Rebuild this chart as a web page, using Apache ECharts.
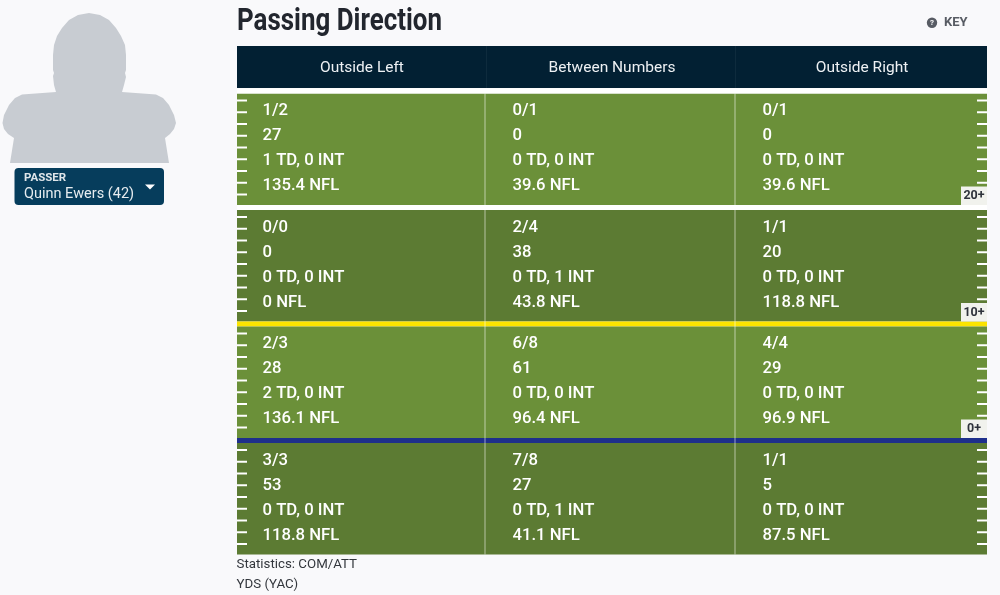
<!DOCTYPE html>
<html><head><meta charset="utf-8">
<style>html,body{margin:0;padding:0;background:#f9f9fb}#c{width:1000px;height:595px}</style>
<script src="https://cdn.jsdelivr.net/npm/echarts@6/dist/echarts.min.js"></script>
</head><body><div id="c"></div>
<script>
const directions = ['Outside Left','Between Numbers','Outside Right'];
const zones = ['20+','10+','0+','Behind'];
const comAtt = [['1/2','0/1','0/1'],['0/0','2/4','1/1'],['2/3','6/8','4/4'],['3/3','7/8','1/1']];
const yds = [['27','0','0'],['0','38','20'],['28','61','29'],['53','27','5']];
const tdInt = [['1 TD, 0 INT','0 TD, 0 INT','0 TD, 0 INT'],['0 TD, 0 INT','0 TD, 1 INT','0 TD, 0 INT'],['2 TD, 0 INT','0 TD, 0 INT','0 TD, 0 INT'],['0 TD, 0 INT','0 TD, 1 INT','0 TD, 0 INT']];
const rating = [['135.4 NFL','39.6 NFL','39.6 NFL'],['0 NFL','43.8 NFL','118.8 NFL'],['136.1 NFL','96.4 NFL','96.9 NFL'],['118.8 NFL','41.1 NFL','87.5 NFL']];
const zoneLabels = ['20+','10+','0+'];
const rowColors = ['#6b9039','#5c7b33','#6b9039','#5c7b33'];
const gapColors = ['#ffffff','#fbe400','#1e2f8b'];

const cells = [];
comAtt.forEach((r, ri) => r.forEach((_, ci) => cells.push([ci, ri])));
const GAP = 5, TICK_W = 10, TICK_N = 9, TICK_STEP = 11.75, FONT = 'Roboto';

function renderCell(params, api) {
  const ci = api.value(0), ri = api.value(1);
  const c = api.coord([ci, ri]), s = api.size([1, 1]);
  const x0 = c[0] - s[0] / 2, top = c[1] - s[1] / 2, h = s[1];
  const ct = top + GAP / 2, cb = top + h - GAP / 2;
  const ch = [];
  const w = s[0];
  const cellX = ci === 0 ? x0 : x0 - 2, cellW = ci === 0 ? w - 2 : (ci === 2 ? w + 2 : w);
  ch.push({type:'rect', shape:{x:cellX, y:ct, width:cellW, height:cb-ct}, style:{fill:rowColors[ri]}});
  if (ri === 0) ch.push({type:'rect', shape:{x:cellX, y:ct-GAP, width:cellW, height:GAP}, style:{fill:'#ffffff'}});
  if (ri < 3) ch.push({type:'rect', shape:{x:cellX, y:cb, width:cellW, height:GAP}, style:{fill:gapColors[ri]}});
  if (ci > 0) {
    const extra = ri === 0 ? 0 : GAP;
    ch.push({type:'rect', shape:{x:x0-3, y:ct-extra, width:2, height:cb-ct+extra}, style:{fill:'rgba(255,255,255,0.28)'}});
  }
  for (let i = 0; i < TICK_N; i++) {
    const ty = ct + 6 + i * TICK_STEP;
    if (ci === 0) ch.push({type:'rect', shape:{x:x0, y:ty, width:TICK_W, height:2}, style:{fill:'#ffffff'}});
    if (ci === 2) ch.push({type:'rect', shape:{x:x0+w-TICK_W, y:ty, width:TICK_W, height:2}, style:{fill:'#ffffff'}});
  }
  [comAtt, yds, tdInt, rating].forEach((arr, k) => {
    ch.push({type:'text', x:x0+25.5, y:ct+17.5+k*25, style:{text:arr[ri][ci], x:0, y:0, fill:'#ffffff', font:'500 16.7px '+FONT, textAlign:'left', textVerticalAlign:'middle', textBaseline:'middle'}});
  });
  if (ci === 2 && ri < 3) {
    const bw = 26, bh = 18.5;
    ch.push({type:'rect', shape:{x:x0+w-bw, y:cb-bh, width:bw, height:bh}, style:{fill:'#f1f2ed'}});
    ch.push({type:'text', x:x0+w-bw/2, y:cb-bh/2+0.5, style:{text:zoneLabels[ri], x:0, y:0, fill:'#2f333c', font:'700 12.5px '+FONT, textAlign:'center', textBaseline:'middle', textVerticalAlign:'middle'}});
  }
  return {type:'group', children:ch};
}

const silhouette = [[10,163],[14,138],[8,134],[4,129],[2.5,123],[4,115],[9,105],[15,98],[22,94.5],[56,92],[54,85],[53,76],[54,73],[53,70],[53,55],[54,45],[57,36],[62,28],[69,20],[78,15],[89,13],[100,15],[109,20],[116,28],[121,36],[125,45],[126,55],[126,70],[125,73],[126,77],[124,85],[122,92],[156,94.5],[163,98],[169,105],[174,115],[176,123],[174,129],[170,134],[165,138],[169,163]];

const chart = echarts.init(document.getElementById('c'), null, {renderer:'canvas', width:1000, height:595});
chart.setOption({
  animation:false,
  backgroundColor:'#f9f9fb',
  textStyle:{fontFamily:FONT},
  grid:{left:237, top:91, width:750, height:466, containLabel:false},
  xAxis:{type:'category', data:directions, position:'top', axisTick:{show:false}, axisLine:{show:false}, splitLine:{show:false},
    axisLabel:{color:'#eef1f4', fontFamily:FONT, fontSize:15.5, margin:14.5, interval:0}},
  yAxis:{type:'category', data:zones, inverse:true, show:false},
  series:[{type:'custom', coordinateSystem:'cartesian2d', data:cells, renderItem:renderCell, clip:false, z:2, silent:true}],
  graphic:[
    {type:'rect', z:-1, silent:true, shape:{x:237,y:46,width:750,height:42}, style:{fill:'#022033'}},
    {type:'rect', z:0, silent:true, shape:{x:486,y:46,width:1,height:42}, style:{fill:'rgba(255,255,255,0.05)'}},
    {type:'rect', z:0, silent:true, shape:{x:735,y:46,width:1,height:42}, style:{fill:'rgba(255,255,255,0.05)'}},
    {type:'text', z:5, silent:true, x:237, y:22, scaleX:0.81, scaleY:1, style:{text:'Passing Direction', fill:'#22262e', font:'700 32px '+FONT, textAlign:'left', textBaseline:'middle', textVerticalAlign:'middle'}},
    {type:'circle', z:5, silent:true, shape:{cx:932,cy:22.7,r:5.2}, style:{fill:'#585c64'}},
    {type:'text', z:6, silent:true, x:932, y:23.2, style:{text:'?', fill:'#f9f9fb', font:'700 8px '+FONT, textAlign:'center', textBaseline:'middle', textVerticalAlign:'middle'}},
    {type:'text', z:5, silent:true, x:944, y:22.5, style:{text:'KEY', fill:'#585c64', font:'700 13px '+FONT, textAlign:'left', textBaseline:'middle', textVerticalAlign:'middle'}},
    {type:'polygon', z:1, silent:true, shape:{points:silhouette}, style:{fill:'#c8ccd2'}},
    {type:'rect', z:1, silent:true, shape:{x:14.5,y:168,width:149.5,height:37,r:4}, style:{fill:'#063d5c'}},
    {type:'text', z:2, silent:true, x:24, y:178, style:{text:'PASSER', fill:'#dfe6ea', font:'700 11.5px '+FONT, textAlign:'left', textBaseline:'middle', textVerticalAlign:'middle'}},
    {type:'text', z:2, silent:true, x:24, y:194, style:{text:'Quinn Ewers (42)', fill:'#e6ecef', font:'400 14.5px '+FONT, textAlign:'left', textBaseline:'middle', textVerticalAlign:'middle'}},
    {type:'polygon', z:2, silent:true, shape:{points:[[145,184.5],[155,184.5],[150,189.5]]}, style:{fill:'#ffffff'}},
    {type:'text', z:5, silent:true, x:236.5, y:565, style:{text:'Statistics: COM/ATT', fill:'#33373d', font:'400 13.3px '+FONT, textAlign:'left', textBaseline:'middle', textVerticalAlign:'middle'}},
    {type:'text', z:5, silent:true, x:236.5, y:585, style:{text:'YDS (YAC)', fill:'#33373d', font:'400 13.3px '+FONT, textAlign:'left', textBaseline:'middle', textVerticalAlign:'middle'}}
  ]
});
</script></body></html>
